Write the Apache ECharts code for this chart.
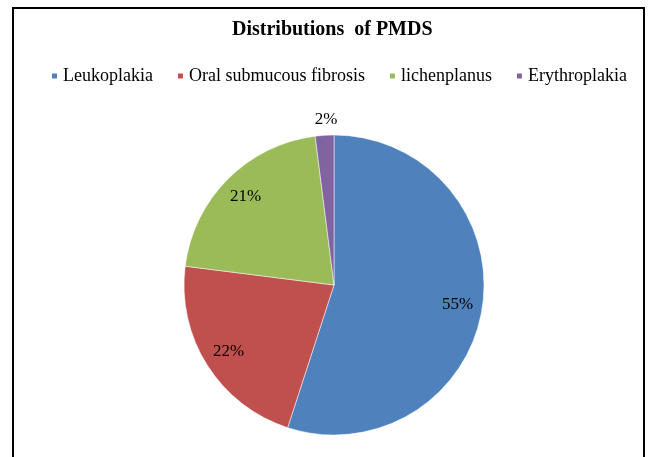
<!DOCTYPE html>
<html>
<head>
<meta charset="utf-8">
<script src="https://cdn.jsdelivr.net/npm/echarts@6/dist/echarts.min.js"></script>
<style>
  html, body { margin: 0; padding: 0; background: #fff; }
  #chart { width: 657px; height: 457px; }
</style>
</head>
<body>
<div id="chart"></div>
<script>
var categories = ['Leukoplakia', 'Oral submucous fibrosis', 'lichenplanus', 'Erythroplakia'];
var percents = [55, 22, 21, 2];
var colors = ['#4F81BD', '#C0504D', '#9BBB59', '#8064A2'];

var chart = echarts.init(document.getElementById('chart'));

var pieData = categories.map(function (name, i) {
  return { name: name, value: percents[i], itemStyle: { color: colors[i] } };
});

// transparent ring, only used to place the % labels further out
var labelData = categories.map(function (name, i) {
  var item = { name: name, value: percents[i] };
  if (i == 3) {
    // tiny slice: label sits above the pie
    item.label = { offset: [0, -41] };
  }
  return item;
});

chart.setOption({
  animation: false,
  title: {
    text: 'Distributions  of PMDS',
    left: 227,
    top: 15,
    textStyle: {
      fontFamily: 'Liberation Serif',
      fontSize: 20,
      fontWeight: 'bold',
      color: '#000'
    }
  },
  legend: {
    data: categories,
    top: 62,
    left: 45,
    icon: 'rect',
    itemWidth: 7,
    itemHeight: 7,
    itemGap: 23,
    textStyle: {
      fontFamily: 'Liberation Serif',
      fontSize: 18,
      color: '#000'
    }
  },
  graphic: [{
    type: 'rect',
    shape: { x: 13, y: 8, width: 631, height: 480 },
    style: { fill: 'none', stroke: '#000', lineWidth: 2 },
    silent: true
  }],
  series: [{
    type: 'pie',
    center: [334, 285],
    radius: [0, 150],
    startAngle: 90,
    clockwise: true,
    data: pieData,
    itemStyle: { borderColor: '#fff', borderWidth: 0.5 },
    label: { show: false },
    labelLine: { show: false },
    legendHoverLink: false
  }, {
    type: 'pie',
    center: [334, 285],
    radius: [94, 150],
    startAngle: 90,
    clockwise: true,
    silent: true,
    data: labelData,
    itemStyle: { color: 'rgba(0,0,0,0)' },
    label: {
      show: true,
      position: 'inside',
      formatter: '{c}%',
      fontFamily: 'Liberation Serif',
      fontSize: 17,
      color: '#000'
    },
    labelLine: { show: false }
  }]
});
</script>
</body>
</html>
